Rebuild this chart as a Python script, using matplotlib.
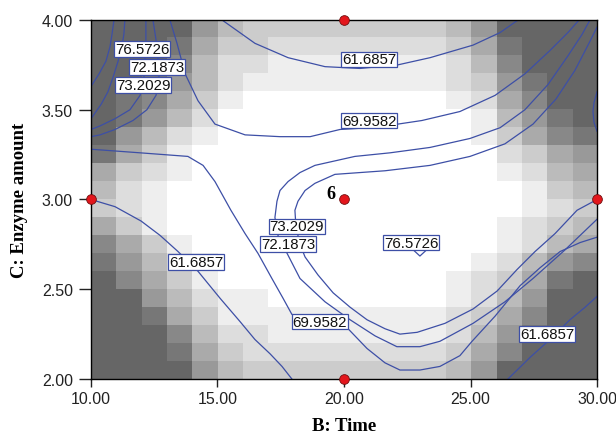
import numpy as np
import matplotlib.pyplot as plt

plt.rcParams['font.family'] = ['Liberation Sans', 'DejaVu Sans']

# gray level of each design cell (0 = white .. 9 = dark), first row is C 3.9-4.0
shade_rows = [
    "99996433333333469999",
    "99985332222222358999",
    "99974221111111247999",
    "99864211111111236899",
    "98753100000000125799",
    "98642000000000014689",
    "96421000000000013578",
    "85310000000000002356",
    "53210000000000001245",
    "42100000000000000134",
    "32100000000000000123",
    "53100000000000001234",
    "75310000000000001245",
    "86421000000000012467",
    "97531000000000123589",
    "99642110000000124699",
    "99853111111111235799",
    "99974221111111246899",
    "99985322222222357999",
    "99996433333333469999",
]

# contour lines (B: time, C: enzyme amount)
c61_top_b = [15.18, 16.48, 17.79, 19.25, 20.63, 22.13, 23.40, 25.10, 26.17, 26.88]
c61_top_c = [4.00, 3.87, 3.79, 3.74, 3.73, 3.75, 3.79, 3.86, 3.93, 4.00]

c61_left_b = [10.00, 10.95, 11.98, 12.73, 13.44, 14.23, 15.10, 15.89, 16.48, 17.08, 17.55, 17.94]
c61_left_c = [3.00, 2.96, 2.88, 2.80, 2.71, 2.60, 2.45, 2.32, 2.22, 2.14, 2.07, 2.00]

c61_right_b = [26.48, 27.35, 28.14, 28.93, 29.53, 30.00]
c61_right_c = [2.00, 2.12, 2.22, 2.33, 2.40, 2.46]

c70_top_b = [13.12, 13.40, 13.72, 14.23, 14.90, 16.09, 17.47, 18.66, 19.84, 21.03,
             22.13, 23.08, 24.58, 25.97, 27.15, 28.14, 28.85, 29.29]
c70_top_c = [4.00, 3.87, 3.70, 3.55, 3.42, 3.36, 3.35, 3.35, 3.39, 3.40,
             3.42, 3.44, 3.49, 3.58, 3.70, 3.83, 3.93, 4.00]

c70_low_b = [10.00, 11.94, 13.83, 14.43, 14.90, 15.53, 16.09, 16.60, 17.15, 17.59, 17.94,
             19.05, 20.16, 20.91, 21.62, 22.21, 23.00, 23.79, 24.58, 25.06, 25.97,
             26.96, 27.75, 28.54, 29.33, 30.00]
c70_low_c = [3.28, 3.26, 3.24, 3.19, 3.10, 2.94, 2.81, 2.70, 2.56, 2.45, 2.36,
             2.32, 2.28, 2.17, 2.09, 2.05, 2.05, 2.07, 2.13, 2.21, 2.35,
             2.52, 2.62, 2.71, 2.76, 2.79]

c72_b = [29.72, 29.41, 28.85, 28.06, 27.15, 26.17, 24.98, 23.40, 21.82, 20.43, 18.85,
         18.26, 17.79, 17.47, 17.35, 17.27, 17.39, 17.75, 18.26, 19.25, 20.24, 21.23,
         22.09, 23.00, 23.79, 25.10, 26.36, 27.47, 28.74, 30.00]
c72_c = [4.00, 3.92, 3.80, 3.64, 3.50, 3.40, 3.34, 3.29, 3.26, 3.24, 3.19,
         3.15, 3.10, 3.05, 2.99, 2.90, 2.80, 2.70, 2.56, 2.43, 2.33, 2.24,
         2.18, 2.18, 2.21, 2.31, 2.43, 2.56, 2.72, 2.89]

c73_b = [30.00, 29.68, 29.13, 28.38, 27.47, 26.36, 24.98, 23.40, 21.62, 19.64, 18.85,
         18.46, 18.18, 18.06, 18.10, 18.26, 18.46, 18.97, 19.57, 20.24, 20.91, 21.62,
         22.21, 22.89, 23.99, 25.10, 26.05, 26.84, 27.55, 28.34, 29.21, 30.00]
c73_c = [3.96, 3.87, 3.72, 3.56, 3.42, 3.31, 3.24, 3.19, 3.16, 3.14, 3.09,
         3.05, 2.99, 2.94, 2.85, 2.75, 2.68, 2.58, 2.48, 2.40, 2.33, 2.28,
         2.25, 2.26, 2.31, 2.39, 2.49, 2.61, 2.71, 2.81, 2.94, 3.00]

tl_a_b = [10.91, 10.83, 10.75, 10.59, 10.32, 10.00]
tl_a_c = [4.00, 3.92, 3.85, 3.77, 3.70, 3.63]
tl_b_b = [11.34, 11.30, 11.23, 11.07, 10.87, 10.67, 10.40, 10.00]
tl_b_c = [4.00, 3.92, 3.86, 3.77, 3.68, 3.60, 3.53, 3.45]
tl_c_b = [12.17, 12.17, 12.13, 12.09, 11.94, 11.54, 10.95, 10.36, 10.00]
tl_c_c = [4.00, 3.89, 3.78, 3.67, 3.58, 3.50, 3.45, 3.41, 3.39]
tl_d_b = [12.45, 12.57, 12.65, 12.69, 12.57, 12.21, 11.66, 10.95, 10.36, 10.00]
tl_d_c = [4.00, 3.89, 3.78, 3.67, 3.58, 3.50, 3.44, 3.39, 3.36, 3.35]

arc_b = [30.00, 29.88, 29.84, 29.88, 30.00]
arc_c = [3.60, 3.54, 3.49, 3.43, 3.38]

peak_b = [22.50, 23.00, 23.50, 23.00, 22.50]
peak_c = [2.75, 2.80, 2.75, 2.685, 2.75]

label_text = ["61.6857", "69.9582", "76.5726", "72.1873", "73.2029",
              "73.2029", "72.1873", "76.5726", "61.6857", "69.9582", "61.6857"]
label_b = [21.00, 21.00, 12.02, 12.61, 12.06, 18.14, 17.79, 22.65, 14.15, 19.05, 28.02]
label_c = [3.78, 3.44, 3.84, 3.74, 3.64, 2.85, 2.75, 2.76, 2.65, 2.32, 2.25]

design_b = [20, 10, 20, 30, 20]
design_c = [4.0, 3.0, 3.0, 3.0, 2.0]

x_ticks = [10, 15, 20, 25, 30]
y_ticks = [2.0, 2.5, 3.0, 3.5, 4.0]

line_col = '#3d4fa6'

fig, ax = plt.subplots(figsize=(6.16, 4.39), dpi=100)
fig.subplots_adjust(left=0.1477, right=0.9692, bottom=0.1344, top=0.9522)

shade = np.array([[int(ch) for ch in row] for row in shade_rows])
ax.imshow(shade, cmap='gray_r', vmin=0, vmax=15, extent=[10, 30, 2, 4],
          origin='upper', aspect='auto', interpolation='nearest', zorder=0)

segments = [
    (c61_top_b, c61_top_c), (c61_left_b, c61_left_c), (c61_right_b, c61_right_c),
    (c70_top_b, c70_top_c), (c70_low_b, c70_low_c),
    (c72_b, c72_c), (c73_b, c73_c),
    (tl_a_b, tl_a_c), (tl_b_b, tl_b_c), (tl_c_b, tl_c_c), (tl_d_b, tl_d_c),
    (arc_b, arc_c), (peak_b, peak_c),
]
for bs, cs in segments:
    ax.plot(bs, cs, color=line_col, lw=0.9, zorder=2)

for txt, b, c in zip(label_text, label_b, label_c):
    ax.text(b, c, txt, ha='center', va='center', fontsize=10.8, color='#111111', zorder=3,
            bbox=dict(boxstyle='square,pad=0.06', fc='white', ec=line_col, lw=0.9))

ax.plot(design_b, design_c, 'o', ms=7, mfc='#e3161c', mec='#701010', mew=0.6,
        clip_on=False, zorder=5)
ax.annotate('6', (20, 3.0), xytext=(-6, 1), textcoords='offset points',
            ha='right', va='baseline', fontsize=13, fontweight='bold',
            family='Liberation Serif')

ax.set_xlim(10, 30)
ax.set_ylim(2, 4)
ax.set_xticks(x_ticks)
ax.set_xticklabels(['%.2f' % v for v in x_ticks])
ax.set_yticks(y_ticks)
ax.set_yticklabels(['%.2f' % v for v in y_ticks])
ax.tick_params(axis='x', length=6, width=1, pad=3, labelsize=11.5, colors='#222222')
ax.tick_params(axis='y', length=9, width=1, pad=4, labelsize=11.5, colors='#222222')
for sp in ax.spines.values():
    sp.set_linewidth(1)

ax.set_xlabel('B: Time', family='Liberation Serif', fontweight='bold', fontsize=13.5)
ax.set_ylabel('C: Enzyme amount', family='Liberation Serif', fontweight='bold', fontsize=13.5)
ax.xaxis.set_label_coords(0.5, -0.105)
ax.yaxis.set_label_coords(-0.125, 0.5)

fig.savefig('out.png', dpi=100)
